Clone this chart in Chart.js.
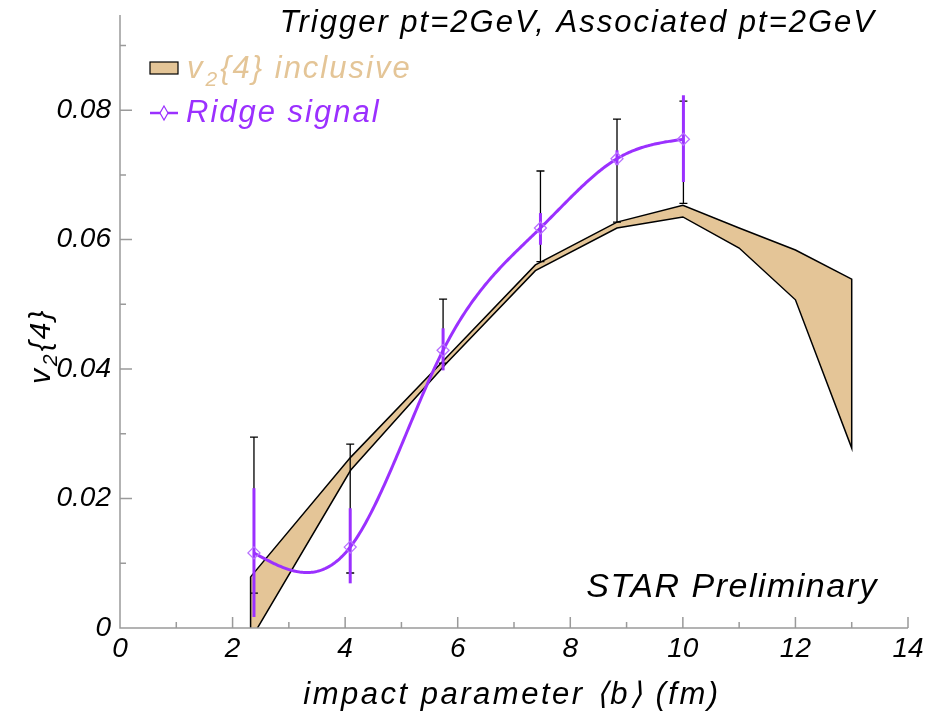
<!DOCTYPE html>
<html>
<head>
<meta charset="utf-8">
<script src="https://cdn.jsdelivr.net/npm/chart.js@4.4.1/dist/chart.umd.min.js"></script>
<style>
    html, body { margin: 0; padding: 0; background: #fff; }
    #wrap { width: 938px; height: 715px; position: relative; }
</style>
</head>
<body>
<div id="wrap"><canvas id="chart" width="938" height="715"></canvas></div>
<script>
// v2{4} inclusive band (upper / lower edge)
const bandB = [2.32, 4.1, 5.8, 7.38, 8.83, 10, 11, 12, 13]
const bandHigh = [0.0079, 0.0264, 0.0418, 0.0561, 0.0627, 0.0653, 0.0618, 0.0584, 0.0539]
const bandLow = [-0.0018, 0.0244, 0.0409, 0.0552, 0.0618, 0.0635, 0.0587, 0.0507, 0.0278]

// ridge signal points
const ridgeB = [2.38, 4.09, 5.74, 7.47, 8.83, 10.01]
const ridgeV2 = [0.0116, 0.0125, 0.0429, 0.0618, 0.0725, 0.0755]
// statistical errors (purple)
const ridgeStatLow = [0.0017, 0.0069, 0.0398, 0.0592, 0.0715, 0.0689]
const ridgeStatHigh = [0.0216, 0.0185, 0.0463, 0.0641, 0.0738, 0.0823]
// systematic errors (black)
const ridgeSysLow = [0.0054, 0.0085, 0.0409, 0.0566, 0.0627, 0.0656]
const ridgeSysHigh = [0.0295, 0.0284, 0.0508, 0.0706, 0.0786, 0.0814]

const xTicks = [0, 2, 4, 6, 8, 10, 12, 14]
const xMinor = [1, 3, 5, 7, 9, 11, 13]
const yTicks = [0, 0.02, 0.04, 0.06, 0.08]
const yMinor = [0.01, 0.03, 0.05, 0.07, 0.09]

const tan = '#e4c597'
const purple = '#9b30ff'
const axisGrey = '#9a9a9a'
const font = '"Liberation Sans", Arial, sans-serif'

// closed outline of the band: upper edge forward, lower edge back
let bandShape = bandB.map((b, i) => ({ x: b, y: bandHigh[i] }))
for (let i = bandB.length - 1; i >= 0; i--) bandShape.push({ x: bandB[i], y: bandLow[i] })
bandShape.push({ x: bandB[0], y: bandHigh[0] })

const ridgePoints = ridgeB.map((b, i) => ({ x: b, y: ridgeV2[i] }))

// natural cubic spline through the ridge points (used to stroke the curve)
function naturalSpline(xs, ys) {
    const n = xs.length
    let h = [], d = []
    for (let i = 0; i < n - 1; i++) {
        h.push(xs[i + 1] - xs[i])
        d.push((ys[i + 1] - ys[i]) / h[i])
    }
    let a = [], b = [], c = [], r = []
    for (let i = 1; i < n - 1; i++) {
        a.push(h[i - 1]); b.push(2 * (h[i - 1] + h[i])); c.push(h[i]); r.push(6 * (d[i] - d[i - 1]))
    }
    const m = r.length
    for (let i = 1; i < m; i++) {
        const w = a[i] / b[i - 1]
        b[i] -= w * c[i - 1]
        r[i] -= w * r[i - 1]
    }
    let M = new Array(n).fill(0)
    let sol = new Array(m)
    sol[m - 1] = r[m - 1] / b[m - 1]
    for (let i = m - 2; i >= 0; i--) sol[i] = (r[i] - c[i] * sol[i + 1]) / b[i]
    for (let i = 0; i < m; i++) M[i + 1] = sol[i]
    return x => {
        let i = 0
        while (i < n - 2 && x > xs[i + 1]) i++
        const hi = h[i]
        const A = (xs[i + 1] - x) / hi, B = (x - xs[i]) / hi
        return A * ys[i] + B * ys[i + 1] + ((A * A * A - A) * M[i] + (B * B * B - B) * M[i + 1]) * hi * hi / 6
    }
}
const ridgeCurve = naturalSpline(ridgeB, ridgeV2)

const extras = {
    id: 'extras',
    beforeDatasetDraw(chart, args) {
        if (args.index !== 1) return
        const ctx = chart.ctx
        const xs = chart.scales.x, ys = chart.scales.y
        const area = chart.chartArea
        ctx.save()
        ctx.beginPath()
        ctx.rect(area.left, area.top, area.right - area.left, area.bottom - area.top)
        ctx.clip()
        // black error bars with caps
        ctx.strokeStyle = '#000'
        ctx.lineWidth = 1.3
        ridgeB.forEach((b, i) => {
            const px = xs.getPixelForValue(b)
            const top = ys.getPixelForValue(ridgeSysHigh[i])
            const bot = ys.getPixelForValue(ridgeSysLow[i])
            ctx.beginPath()
            ctx.moveTo(px, top); ctx.lineTo(px, bot)
            ctx.moveTo(px - 4, top); ctx.lineTo(px + 4, top)
            ctx.moveTo(px - 4, bot); ctx.lineTo(px + 4, bot)
            ctx.stroke()
        })
        // purple spline
        ctx.strokeStyle = purple
        ctx.lineWidth = 3
        ctx.lineJoin = 'round'
        ctx.beginPath()
        const x0 = ridgeB[0], x1 = ridgeB[ridgeB.length - 1]
        for (let k = 0; k <= 300; k++) {
            const b = x0 + (x1 - x0) * k / 300
            const px = xs.getPixelForValue(b), py = ys.getPixelForValue(ridgeCurve(b))
            if (k === 0) ctx.moveTo(px, py)
            else ctx.lineTo(px, py)
        }
        ctx.stroke()
        // purple error bars
        ctx.lineWidth = 3
        ridgeB.forEach((b, i) => {
            const px = xs.getPixelForValue(b)
            ctx.beginPath()
            ctx.moveTo(px, ys.getPixelForValue(ridgeStatHigh[i]))
            ctx.lineTo(px, ys.getPixelForValue(ridgeStatLow[i]))
            ctx.stroke()
        })
        ctx.restore()
    },
    afterDraw(chart) {
        const ctx = chart.ctx
        const xs = chart.scales.x, ys = chart.scales.y
        const area = chart.chartArea
        ctx.save()
        // axes with inward ticks
        ctx.strokeStyle = axisGrey
        ctx.lineWidth = 1.5
        ctx.beginPath()
        ctx.moveTo(area.left, area.top); ctx.lineTo(area.left, area.bottom); ctx.lineTo(area.right, area.bottom)
        xTicks.forEach(v => { const p = xs.getPixelForValue(v); ctx.moveTo(p, area.bottom); ctx.lineTo(p, area.bottom - 11) })
        xMinor.forEach(v => { const p = xs.getPixelForValue(v); ctx.moveTo(p, area.bottom); ctx.lineTo(p, area.bottom - 6) })
        yTicks.forEach(v => { const p = ys.getPixelForValue(v); ctx.moveTo(area.left, p); ctx.lineTo(area.left + 12, p) })
        yMinor.forEach(v => { const p = ys.getPixelForValue(v); ctx.moveTo(area.left, p); ctx.lineTo(area.left + 6, p) })
        ctx.stroke()

        ctx.fillStyle = '#000'
        ctx.textBaseline = 'alphabetic'
        ctx.letterSpacing = '2px'
        // header text
        ctx.font = 'italic 31px ' + font
        ctx.textAlign = 'right'
        ctx.fillText('Trigger pt=2GeV, Associated pt=2GeV', 876, 32)
        ctx.letterSpacing = '1.5px'
        ctx.font = 'italic 34px ' + font
        ctx.fillText('STAR Preliminary', 878, 597)
        // x title
        ctx.letterSpacing = '2.5px'
        ctx.font = 'italic 31px ' + font
        ctx.textAlign = 'center'
        ctx.fillText('impact parameter \u27e8b\u27e9 (fm)', 512, 704)
        // y title
        ctx.letterSpacing = '2px'
        ctx.save()
        ctx.translate(50, 384)
        ctx.rotate(-Math.PI / 2)
        ctx.textAlign = 'left'
        ctx.font = 'italic 30px ' + font
        ctx.fillText('v', 0, 0)
        let w = ctx.measureText('v').width
        ctx.font = 'italic 21px ' + font
        ctx.fillText('2', w + 1, 7)
        w += ctx.measureText('2').width + 2
        ctx.font = 'italic 30px ' + font
        ctx.fillText('{4}', w, 0)
        ctx.restore()

        // legend
        ctx.fillStyle = tan
        ctx.fillRect(150, 62, 28, 12)
        ctx.strokeStyle = '#000'
        ctx.lineWidth = 1.2
        ctx.strokeRect(150, 62, 28, 12)
        ctx.textAlign = 'left'
        ctx.font = 'italic 31px ' + font
        ctx.fillText('v', 187, 78)
        let lx = 187 + ctx.measureText('v').width
        ctx.font = 'italic 21px ' + font
        ctx.fillText('2', lx + 1, 86)
        lx += ctx.measureText('2').width + 2
        ctx.font = 'italic 31px ' + font
        ctx.fillText('{4} inclusive', lx, 78)

        ctx.strokeStyle = purple
        ctx.lineWidth = 2.5
        ctx.beginPath()
        ctx.moveTo(150, 113); ctx.lineTo(178, 113)
        ctx.stroke()
        ctx.lineWidth = 1.2
        ctx.fillStyle = '#fff'
        ctx.beginPath()
        ctx.moveTo(164, 106); ctx.lineTo(168, 113); ctx.lineTo(164, 120); ctx.lineTo(160, 113); ctx.closePath()
        ctx.fill(); ctx.stroke()
        ctx.fillStyle = purple
        ctx.font = 'italic 31px ' + font
        ctx.fillText('Ridge signal', 186, 122)
        ctx.restore()
    }
}

new Chart(document.getElementById('chart'), {
    type: 'scatter',
    data: {
        datasets: [{
            label: 'v2{4} inclusive',
            data: bandShape,
            showLine: true,
            fill: 'shape',
            backgroundColor: tan,
            borderColor: '#000',
            borderWidth: 1.5,
            pointRadius: 0,
            tension: 0,
            order: 2
        }, {
            label: 'Ridge signal',
            data: ridgePoints,
            showLine: false,
            pointStyle: 'rectRot',
            pointRadius: 6,
            pointBorderWidth: 1.3,
            pointBorderColor: '#b870ff',
            pointBackgroundColor: 'rgba(255,255,255,0)',
            order: 1
        }]
    },
    options: {
        responsive: false,
        animation: false,
        devicePixelRatio: 1,
        layout: { padding: { top: 15, right: 30, left: 0, bottom: 0 } },
        plugins: {
            legend: { display: false },
            tooltip: { enabled: false }
        },
        scales: {
            x: {
                type: 'linear',
                min: 0,
                max: 14,
                afterFit: s => { s.height = 87 },
                afterBuildTicks: s => { s.ticks = xTicks.map(v => ({ value: v })) },
                grid: { display: false, drawTicks: false },
                border: { display: false },
                ticks: {
                    padding: 4,
                    maxRotation: 0,
                    color: '#000',
                    font: { family: font, size: 28, style: 'italic' },
                    callback: v => String(v)
                }
            },
            y: {
                type: 'linear',
                min: 0,
                max: 0.0947,
                afterFit: s => { s.width = 120; s.paddingTop = 0; s.paddingBottom = 0 },
                afterBuildTicks: s => { s.ticks = yTicks.map(v => ({ value: v })) },
                grid: { display: false, drawTicks: false },
                border: { display: false },
                ticks: {
                    padding: 9,
                    color: '#000',
                    font: { family: font, size: 28, style: 'italic' },
                    callback: v => v === 0 ? '0' : v.toFixed(2)
                }
            }
        }
    },
    plugins: [extras]
})
</script>
</body>
</html>
